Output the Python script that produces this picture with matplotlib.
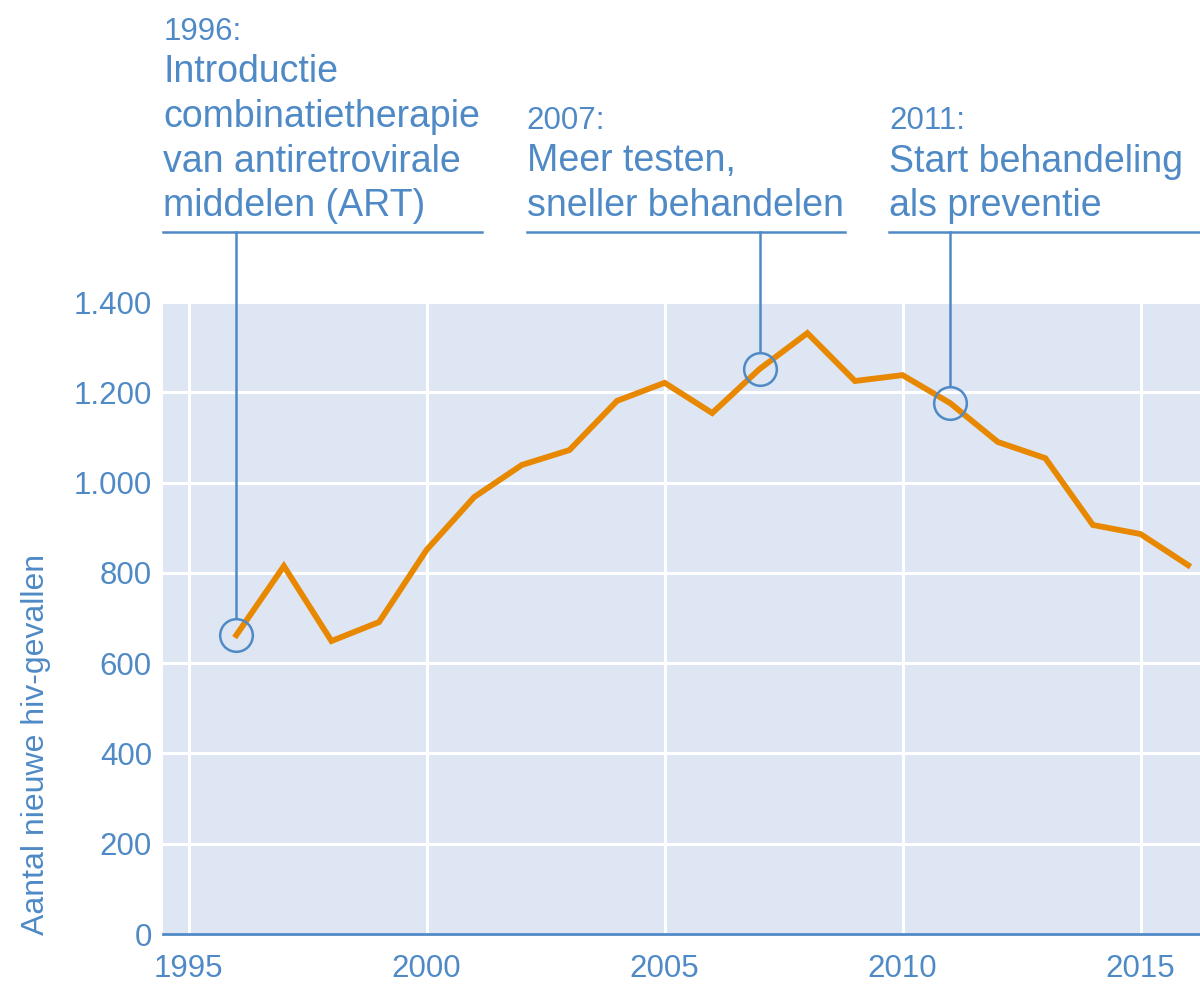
import matplotlib
matplotlib.use("Agg")
import matplotlib.pyplot as plt
import matplotlib.transforms as mtransforms

plt.rcParams['font.family'] = ['Liberation Sans', 'DejaVu Sans']

years = list(range(1996, 2017))
cases = [662, 815, 649, 691, 851, 968, 1039, 1072, 1181, 1221, 1154,
         1252, 1331, 1225, 1238, 1176, 1090, 1054, 906, 886, 817]

event_years = [1996, 2007, 2011]
event_labels = ["1996:", "2007:", "2011:"]
event_texts = [
    ["Introductie", "combinatietherapie", "van antiretrovirale", "middelen (ART)"],
    ["Meer testen,", "sneller behandelen"],
    ["Start behandeling", "als preventie"],
]
x_ticks = [1995, 2000, 2005, 2010, 2015]
y_ticks = [0, 200, 400, 600, 800, 1000, 1200, 1400]
y_tick_labels = ["0", "200", "400", "600", "800", "1.000", "1.200", "1.400"]
y_label = "Aantal nieuwe hiv-gevallen"

BLUE = '#4f8ac6'
ORANGE = '#e88700'
BG = '#dde6f2'

W, H = 1200, 984
fig = plt.figure(figsize=(12, 9.84), dpi=100)
ax = fig.add_axes([163 / W, (H - 934) / H, 1 - 163 / W, (934 - 302) / H])
ax.set_facecolor(BG)
ax.set_xlim(1994.46, 2016.25)
ax.set_ylim(0, 1400)

ax.set_xticks(x_ticks)
ax.set_yticks(y_ticks)
ax.set_yticklabels(y_tick_labels)
ax.grid(True, color='white', linewidth=2.2)
ax.set_axisbelow(True)
ax.tick_params(axis='both', length=0, labelsize=22.5, labelcolor=BLUE)
ax.tick_params(axis='y', pad=8)
ax.tick_params(axis='x', pad=14.5)
for s in ['top', 'right', 'left']:
    ax.spines[s].set_visible(False)
ax.spines['bottom'].set_color(BLUE)
ax.spines['bottom'].set_linewidth(2)
ax.spines['bottom'].set_zorder(5)

ax.plot(years, cases, color=ORANGE, linewidth=4.2, solid_joinstyle='miter', zorder=3)

# annotations
trans = mtransforms.blended_transform_factory(ax.transData, fig.transFigure)
ypix = lambda p: (H - p) / H
line_y = 232
starts = [-1.53, -4.9, -1.28]
lengths = [6.7, 6.7, 7.0]
for yr, lab, lines, st, ln in zip(event_years, event_labels, event_texts, starts, lengths):
    val = cases[years.index(yr)]
    ax.plot([yr], [val], marker='o', markersize=23.5, markerfacecolor='none',
            markeredgecolor=BLUE, markeredgewidth=1.8, zorder=4, clip_on=False)
    disp = ax.transData.transform((yr, val))
    circle_top_pix = H - disp[1] - 17
    ax.plot([yr, yr], [ypix(line_y), ypix(circle_top_pix)], color=BLUE, linewidth=1.8,
            transform=trans, clip_on=False, zorder=4)
    ax.plot([yr + st, yr + st + ln], [ypix(line_y), ypix(line_y)], color=BLUE,
            linewidth=1.8, transform=trans, clip_on=False, zorder=4)
    base = 216
    n = len(lines)
    for i, t in enumerate(lines):
        b = base - (n - 1 - i) * 44.5
        fig.text(0, ypix(b), t, transform=trans, fontsize=27, color=BLUE, va='baseline',
                 ha='left').set_x(yr + st)
    yb = base - n * 44.5 + 2
    fig.text(0, ypix(yb), lab, transform=trans, fontsize=22.5, color=BLUE, va='baseline',
             ha='left').set_x(yr + st)

fig.text(36 / W, (H - 935) / H, y_label, rotation=90, ha='center', va='bottom',
         fontsize=23, color=BLUE)

fig.savefig('out.png', dpi=100)
